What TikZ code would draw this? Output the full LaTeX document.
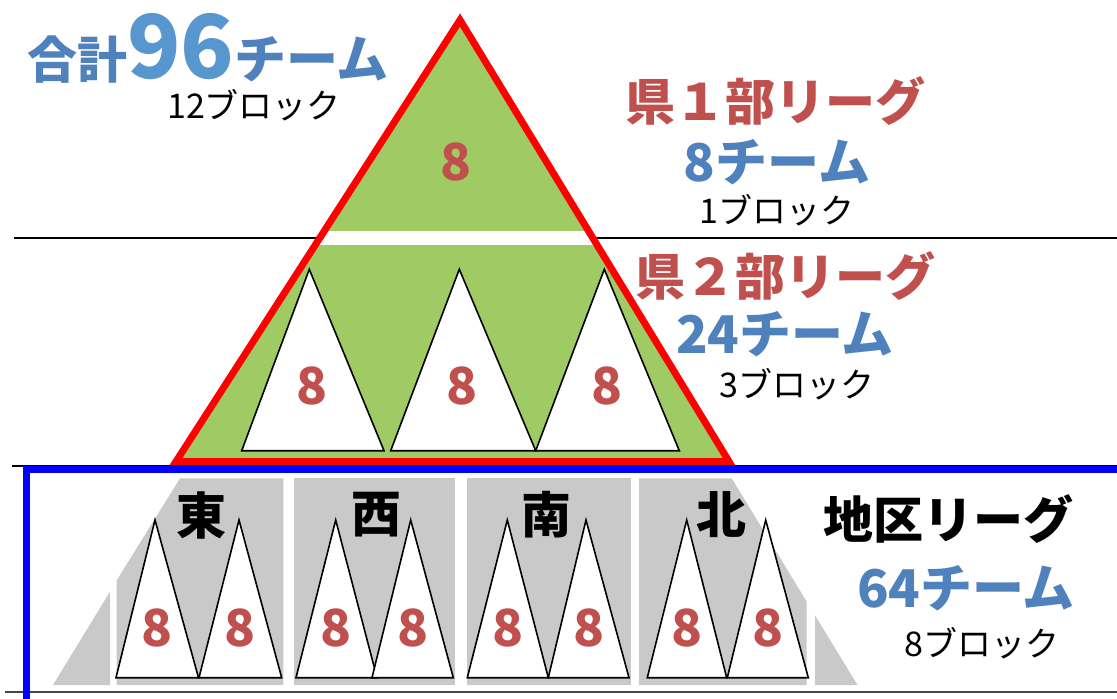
\documentclass[tikz,border=0pt]{standalone}
\usepackage{fontspec}
\newfontfamily\jp{Noto Sans CJK JP}
\definecolor{tred}{RGB}{192,80,77}
\definecolor{tblue}{RGB}{79,129,189}
\definecolor{tbluelt}{RGB}{88,150,207}
\definecolor{pgreen}{RGB}{160,202,99}
\definecolor{pgray}{RGB}{201,201,201}
\begin{document}
\begin{tikzpicture}[x=1pt,y=-1pt,
  tri/.style={draw=black, fill=white, line width=1.6pt, line join=miter},
  num/.style={inner sep=0, text=tred, font=\jp\bfseries\fontsize{51}{51}\selectfont},
  redtxt/.style={inner sep=0, text=tred, font=\jp\bfseries\fontsize{50}{50}\selectfont},
  bluetxt/.style={inner sep=0, text=tblue, font=\jp\bfseries\fontsize{52}{52}\selectfont},
  blktxt/.style={inner sep=0, text=black, font=\jp\bfseries\fontsize{50}{50}\selectfont},
  blocktxt/.style={inner sep=0, text=black, font=\jp\fontsize{34}{34}\selectfont},
  dirtxt/.style={inner sep=0, text=black, font=\jp\bfseries\fontsize{50}{50}\selectfont},
  sepline/.style={draw=black, line width=1.3pt}]
\path[use as bounding box] (0,0) rectangle (1117,699);
\fill[white] (0,0) rectangle (1117,699);

% separator lines
\draw[sepline] (14,238) -- (1117,238);
\draw[sepline] (12,466) -- (1117,466);
\draw[draw=black!72, line width=2.5pt] (5,692) -- (1117,692);

% pyramid (prefectural leagues)
\coordinate (apex) at (460,20);
\coordinate (bl) at (176,461.5);
\coordinate (br) at (729,461.5);
\fill[pgreen] (apex) -- (br) -- (bl) -- cycle;
\begin{scope}
  \clip (apex) -- (br) -- (bl) -- cycle;
  \fill[white] (0,231) rectangle (1117,245);
\end{scope}

% level 2 blocks
\draw[tri] (241.7,450.7) -- (309.3,269.3) -- (384,450.7) -- cycle;
\draw[tri] (390.7,450.7) -- (459.3,269.3) -- (535.7,450.7) -- cycle;
\draw[tri] (535.7,450.7) -- (604.3,269.3) -- (679.3,450.7) -- cycle;

\draw[red, line width=7pt, line join=miter] (apex) -- (br) -- (bl) -- cycle;

\node[num] (n1) at (456,162) {8};
\node[num] (n2a) at (312.5,386) {8};
\node[num] (n2b) at (462.5,386) {8};
\node[num] (n2c) at (607,386) {8};

% district level gray base
\fill[pgray] (53,685) -- (110,591.7) -- (110,685) -- cycle;
\fill[pgray] (116.7,685) -- (116.7,580.4) -- (180,478.3) -- (283.3,478.3) -- (283.3,685) -- cycle;
\fill[pgray] (294,478.3) rectangle (455,685);
\fill[pgray] (467.3,478.3) rectangle (631,685);
\fill[pgray] (639,685) -- (639,478.3) -- (731.7,478.3) -- (806.7,601.7) -- (806.7,685) -- cycle;
\fill[pgray] (815,685) -- (815,615.3) -- (857.5,685) -- cycle;

% district blocks
\foreach \l/\a/\r [count=\i] in {116/155/198.5, 199/239/281.7, 296/335.7/377, 372/410.7/453.3,
  467.3/507.3/548.3, 548.3/586/629, 647.3/686.7/726.7, 727.3/765.7/808.3}{
  \draw[tri] (\l,677.7) -- (\a,520) -- (\r,677.7) -- cycle;
  \node[num] (d\i) at ({(\l+\r)/2},628) {8};
}

\node[dirtxt] (east) at (201.7,515) {東};
\node[dirtxt] (west) at (376.7,515) {西};
\node[dirtxt] (south) at (546.7,515) {南};
\node[dirtxt] (north) at (721.7,515) {北};

\draw[blue, line width=7pt] (26,705) -- (26,469.5) -- (1125,469.5);

% texts
\node[inner sep=0, anchor=base west, text=tblue, font=\jp\bfseries] (total) at (27,78)
  {{\fontsize{50}{50}\selectfont 合計}{\fontsize{88}{88}\selectfont\color{tbluelt}96}{\fontsize{52}{52}\selectfont チーム}};
\node[blocktxt] (blk12) at (254,105) {12ブロック};

\node[redtxt] (lg1) at (775,101) {県１部リーグ};
\node[bluetxt] (tm1) at (777,162) {8チーム};
\node[blocktxt] (bk1) at (777,210) {1ブロック};

\node[redtxt] (lg2) at (785,276) {県２部リーグ};
\node[bluetxt] (tm2) at (785,334) {24チーム};
\node[blocktxt] (bk2) at (797,384) {3ブロック};

\node[blktxt] (lg3) at (948,519) {地区リーグ};
\node[bluetxt] (tm3) at (966,588) {64チーム};
\node[blocktxt] (bk3) at (982,643) {8ブロック};
\end{tikzpicture}
\end{document}
